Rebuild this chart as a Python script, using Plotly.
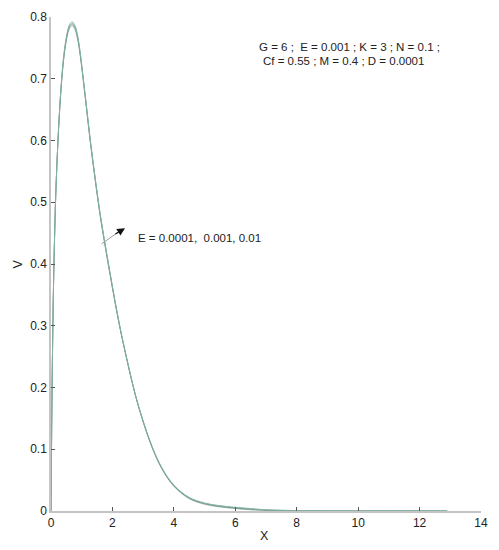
import plotly.graph_objects as go

# x positions (shared by the three curves)
x_vals = [0, 0.02, 0.04, 0.07, 0.1, 0.14, 0.2, 0.27, 0.35, 0.43, 0.52, 0.6, 0.69, 0.78, 0.87,
          0.95, 1.02, 1.15, 1.28, 1.44, 1.6, 1.73, 1.86, 2.0, 2.15, 2.3, 2.5, 2.74, 3.0, 3.28,
          3.6, 4.0, 4.5, 5.0, 5.44, 6.0, 6.5, 7.0, 8.0, 9.0, 10.0, 11.0, 12.0, 12.9]

# V for E = 0.0001, 0.001, 0.01
v_e1 = [0, 0.12, 0.22, 0.33, 0.41, 0.49, 0.57, 0.64, 0.698, 0.738, 0.767, 0.781, 0.786, 0.780, 0.763,
        0.738, 0.710, 0.654, 0.597, 0.535, 0.478, 0.438, 0.400, 0.361, 0.320, 0.283, 0.238, 0.188, 0.144, 0.104,
        0.069, 0.040, 0.020, 0.011, 0.007, 0.004, 0.002, 0.001, 0.0004, 0.0001, 0, 0, 0, 0]
v_e2 = [0, 0.12, 0.22, 0.33, 0.41, 0.49, 0.57, 0.64, 0.700, 0.741, 0.770, 0.784, 0.789, 0.783, 0.766,
        0.740, 0.712, 0.656, 0.599, 0.537, 0.480, 0.440, 0.402, 0.362, 0.321, 0.284, 0.239, 0.189, 0.145, 0.105,
        0.070, 0.041, 0.021, 0.012, 0.008, 0.005, 0.003, 0.0015, 0.0005, 0.0001, 0, 0, 0, 0]
v_e3 = [0, 0.12, 0.22, 0.33, 0.41, 0.49, 0.57, 0.641, 0.702, 0.744, 0.773, 0.787, 0.792, 0.786, 0.769,
        0.743, 0.714, 0.658, 0.601, 0.539, 0.482, 0.442, 0.404, 0.364, 0.323, 0.285, 0.240, 0.190, 0.146, 0.106,
        0.071, 0.042, 0.022, 0.013, 0.009, 0.006, 0.004, 0.002, 0.0008, 0.0002, 0, 0, 0, 0]

series_names = ["E = 0.0001", "E = 0.001", "E = 0.01"]
series_vals = [v_e1, v_e2, v_e3]
series_colors = ["#a3aba6", "#5e9e80", "#86b0a6"]

x_ticks = [0, 2, 4, 6, 8, 10, 12, 14]
y_ticks = [0, 0.1, 0.2, 0.3, 0.4, 0.5, 0.6, 0.7, 0.8]
y_tick_text = ["0", "0.1", "0.2", "0.3", "0.4", "0.5", "0.6", "0.7", "0.8"]

fig = go.Figure()
for name, vals, col in zip(series_names, series_vals, series_colors):
    fig.add_trace(go.Scatter(x=x_vals, y=vals, mode="lines", name=name,
                             line=dict(color=col, width=1, shape="spline", smoothing=1.0)))

font_family = "Liberation Sans, Arial, sans-serif"

fig.update_layout(
    width=491, height=542,
    margin=dict(l=43, r=18, t=9, b=39, autoexpand=False),
    paper_bgcolor="white", plot_bgcolor="white",
    showlegend=False,
    font=dict(family=font_family, size=12, color="#222"),
    xaxis=dict(range=[0, 14], tickvals=x_ticks, showgrid=False, zeroline=False, automargin=False,
               showline=True, linecolor="#c4c4c4", linewidth=1.5,
               ticks="inside", ticklen=4, tickcolor="#555", tickwidth=1,
               tickfont=dict(size=12, color="#222")),
    yaxis=dict(range=[0, 0.8], tickvals=y_ticks, ticktext=y_tick_text, showgrid=False, zeroline=False,
               automargin=False,
               showline=True, linecolor="#c4c4c4", linewidth=1.5,
               ticks="inside", ticklen=4, tickcolor="#555", tickwidth=1,
               tickfont=dict(size=12, color="#222")),
)

# axis titles
fig.add_annotation(xref="paper", yref="paper", x=(264 - 51) / 430, y=-(536 - 511) / 494,
                   text="X", showarrow=False, xanchor="center", yanchor="middle",
                   font=dict(size=12.5, color="#222", family=font_family))
fig.add_annotation(xref="paper", yref="paper", x=-(51 - 17.5) / 430, y=(511 - 264) / 494,
                   text="V", showarrow=False, xanchor="center", yanchor="middle", textangle=-90,
                   font=dict(size=12.5, color="#222", family=font_family))

fig.add_annotation(xref="paper", yref="paper", x=(257 - 51) / 430, y=(511 - 47) / 494, xanchor="left", yanchor="middle",
                   text="G = 6 ;  E = 0.001 ; K = 3 ; N = 0.1 ;", showarrow=False,
                   font=dict(size=11.5, color="#222", family=font_family))
fig.add_annotation(xref="paper", yref="paper", x=(261 - 51) / 430, y=(511 - 61) / 494, xanchor="left", yanchor="middle",
                   text="Cf = 0.55 ; M = 0.4 ; D = 0.0001", showarrow=False,
                   font=dict(size=11.5, color="#222", family=font_family))
fig.add_annotation(x=(136 - 51) / 30.71, y=(511 - 238) / 617.5, xanchor="left", yanchor="middle",
                   text="E = 0.0001,  0.001, 0.01", showarrow=False,
                   font=dict(size=11.5, color="#222", family=font_family))
# arrow shaft (gray) and head (black)
fig.add_annotation(x=2.2, y=0.452, ax=1.6, ay=0.431, xref="x", yref="y", axref="x", ayref="y",
                   text="", showarrow=True, arrowhead=0, arrowwidth=1, arrowcolor="#999")
fig.add_annotation(x=2.41, y=0.458, ax=2.05, ay=0.447, xref="x", yref="y", axref="x", ayref="y",
                   text="", showarrow=True, arrowhead=2, arrowsize=1.3, arrowwidth=1.2, arrowcolor="#111")

fig.write_html("out.html")
